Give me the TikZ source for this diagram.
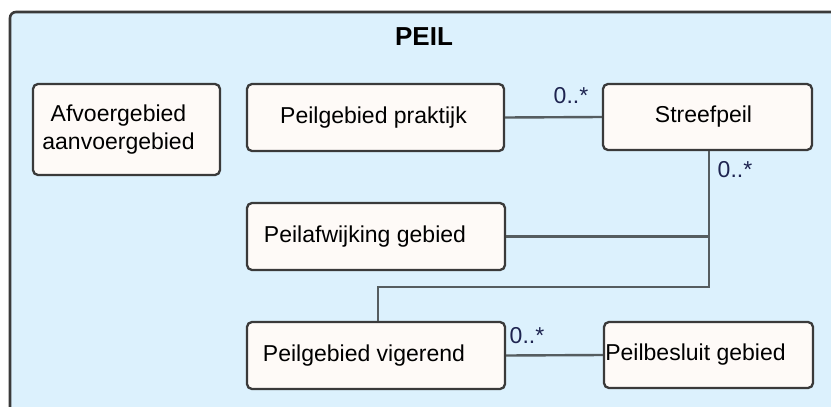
\documentclass[tikz,border=0pt]{standalone}
\usepackage{fontspec}
\setmainfont{Liberation Sans}
\definecolor{bgblue}{HTML}{DCF1FD}
\definecolor{boxfill}{HTML}{FEFAF7}
\definecolor{boxborder}{HTML}{3A3A3A}
\definecolor{connline}{HTML}{555D60}
\definecolor{multcol}{HTML}{1E2450}
\tikzset{
  umlbox/.style={draw=boxborder, fill=boxfill, line width=2.3pt, rounded corners=5pt, inner sep=0pt},
  boxtext/.style={font=\fontsize{23}{28}\selectfont, text=black, inner sep=0pt},
  conn/.style={draw=connline, line width=2.4pt},
  mult/.style={font=\fontsize{23}{28}\selectfont, text=multcol, inner sep=0pt}
}
\begin{document}
\begin{tikzpicture}[x=1pt,y=-1pt]
\useasboundingbox (0,0) rectangle (831,407);
% package frame
\draw[fill=bgblue, draw=boxborder, line width=2.6pt, rounded corners=6pt] (10,12) rectangle (850,430);
\node[font=\bfseries\fontsize{26}{30}\selectfont, inner sep=0pt] (title) at (424,37) {PEIL};
% classes
\node[umlbox, minimum width=187pt, minimum height=91pt,
  label={[boxtext, align=center, xshift=-8pt]center:Afvoergebied\\aanvoergebied}] (afv) at (126.5,129.5) {};
\node[umlbox, minimum width=257pt, minimum height=67pt,
  label={[boxtext, xshift=-2pt]center:Peilgebied praktijk}] (pp) at (375.5,117.5) {};
\node[umlbox, minimum width=209pt, minimum height=66pt,
  label={[boxtext, xshift=-4pt]center:Streefpeil}] (sp) at (707.5,117) {};
\node[umlbox, minimum width=258pt, minimum height=67pt,
  label={[boxtext, xshift=-11pt]center:Peilafwijking gebied}] (paf) at (376,236.5) {};
\node[umlbox, minimum width=258pt, minimum height=67pt,
  label={[boxtext, xshift=-12pt]center:Peilgebied vigerend}] (pv) at (376,355.5) {};
\node[umlbox, minimum width=209pt, minimum height=66pt,
  label={[boxtext, xshift=-13pt]center:Peilbesluit gebied}] (pb) at (708.5,355) {};
% junction points
\coordinate (j1) at (709,238);
\coordinate (j2) at (709,287);
% connectors
\draw[conn] (pp.east) -- (sp.west);
\draw[conn] (sp.south -| j1) -- (j2) -| ([xshift=2pt]pv.north);
\draw[conn] (paf.east) -- (paf.east -| j1);
\draw[conn] (pv.east) -- (pb.west);
% multiplicities
\node[mult] (m1) at (571,96) {0..*};
\node[mult] (m2) at (735,170) {0..*};
\node[mult] (m3) at (527,336) {0..*};
\end{tikzpicture}
\end{document}
